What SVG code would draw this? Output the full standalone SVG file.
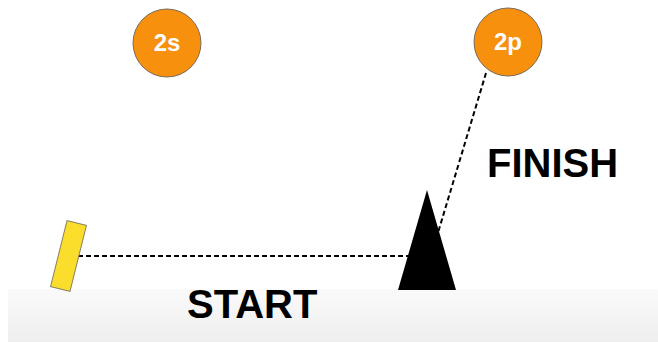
<svg xmlns="http://www.w3.org/2000/svg" width="658" height="342" viewBox="0 0 658 342">
<defs>
<linearGradient id="ground" x1="0" y1="0" x2="0" y2="1">
<stop offset="0" stop-color="#fafafa"/>
<stop offset="1" stop-color="#eeeeee"/>
</linearGradient>
</defs>
<style>
.conn{fill:none;stroke:#000;stroke-width:2;stroke-dasharray:5 3}
.badge{fill:#f7900c;stroke:#7a6a5a;stroke-width:1}
.badge-t{font-family:"Liberation Sans",Arial,sans-serif;font-weight:bold;font-size:24px;fill:#fff;text-anchor:middle}
.big{font-family:"Liberation Sans",Arial,sans-serif;font-weight:bold;font-size:40px;fill:#000}
</style>
<rect width="658" height="342" fill="#fff"/>
<rect id="ground-band" x="8" y="289" width="650" height="53" fill="url(#ground)"/>
<g id="connectors">
<line class="conn" x1="486" y1="73" x2="437" y2="236"/>
<line class="conn" x1="78" y1="256" x2="412" y2="256"/>
</g>
<g id="node-2s">
<circle class="badge" cx="167" cy="43" r="34"/>
<text class="badge-t" x="167" y="51">2s</text>
</g>
<g id="node-2p">
<circle class="badge" cx="508" cy="42" r="34"/>
<text class="badge-t" x="508" y="50">2p</text>
</g>
<g id="node-start-marker">
<rect x="-10" y="-34" width="20" height="68" fill="#fbdd2c" stroke="#8b8060" stroke-width="1" transform="translate(68.5 256) rotate(14)"/>
</g>
<g id="node-cone">
<polygon points="427,190 456,290 398,290" fill="#000"/>
</g>
<g id="label-finish">
<text class="big" x="487" y="177">FINISH</text>
</g>
<g id="label-start">
<text class="big" x="187" y="318">START</text>
</g>
</svg>
